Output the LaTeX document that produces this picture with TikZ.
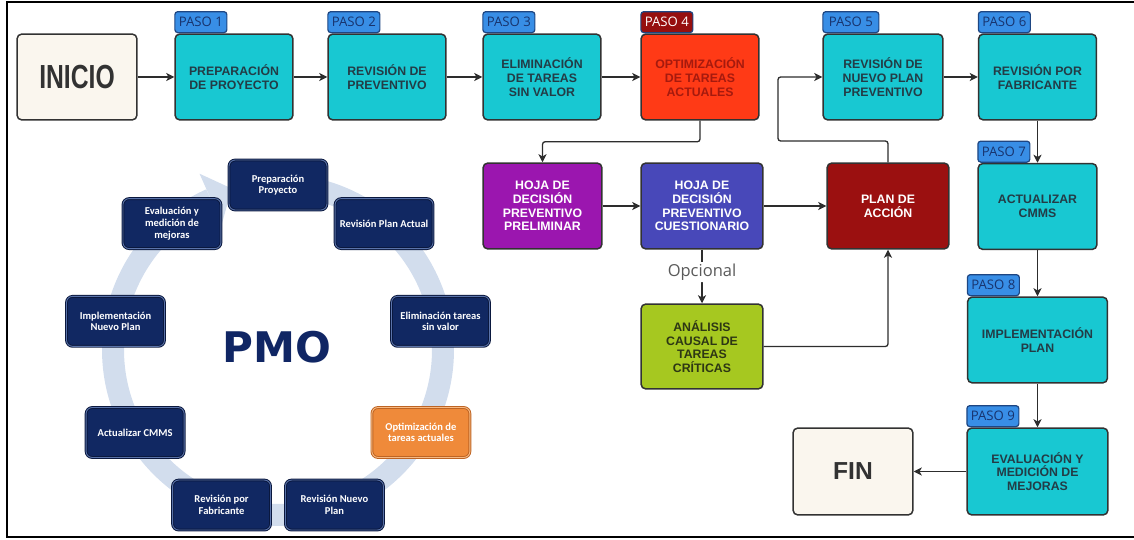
\documentclass[tikz,border=0pt]{standalone}
\usepackage{fontspec}
\setmainfont{Liberation Sans}
\newfontfamily\tagfont{Open Sans}
\newfontfamily\pmfont{Carlito}
\newfontfamily\bigfont{DejaVu Sans}
\newfontfamily\inicfont[FakeStretch=0.74]{Liberation Sans}
\usetikzlibrary{arrows.meta, calc, positioning}

\definecolor{boxedge}{RGB}{50,50,50}
\definecolor{linegray}{RGB}{45,45,45}
\definecolor{pasocyan}{RGB}{24,200,210}
\definecolor{pasotext}{RGB}{35,60,70}
\definecolor{endbeige}{RGB}{250,246,238}
\definecolor{endtext}{RGB}{50,50,50}
\definecolor{redbox}{RGB}{255,58,22}
\definecolor{redtext}{RGB}{165,26,14}
\definecolor{hojapurple}{RGB}{155,22,175}
\definecolor{hojablue}{RGB}{72,72,185}
\definecolor{planred}{RGB}{155,16,16}
\definecolor{causalgreen}{RGB}{166,200,32}
\definecolor{causaltext}{RGB}{45,55,20}
\definecolor{tagblue}{RGB}{56,142,230}
\definecolor{tagedge}{RGB}{30,70,130}
\definecolor{tagtext}{RGB}{24,52,110}
\definecolor{tagdark}{RGB}{150,15,15}
\definecolor{optgray}{RGB}{90,90,90}
\definecolor{ringblue}{RGB}{210,221,237}
\definecolor{pmonavy}{RGB}{17,40,98}
\definecolor{pmodark}{RGB}{10,24,62}
\definecolor{pmolight}{RGB}{90,115,170}
\definecolor{pmoorange}{RGB}{239,138,58}
\definecolor{pmoorangedark}{RGB}{190,100,35}
\definecolor{pmoorangelight}{RGB}{248,185,130}
\definecolor{pmoblue}{RGB}{16,38,100}

\tikzset{
	box/.style={draw=boxedge, line width=0.85pt, rounded corners=2.8pt, align=center, inner sep=0pt,
		minimum width=2.36cm, minimum height=1.72cm, font=\bfseries\fontsize{7}{7.8}\selectfont},
	paso/.style={box, fill=pasocyan, text=pasotext},
	endbox/.style={box, fill=endbeige, text=endtext, minimum width=2.4cm},
	tag/.style={draw=tagedge, fill=tagblue, text=tagtext, line width=0.7pt, rounded corners=1.7pt,
		inner sep=0pt, minimum width=1.04cm, minimum height=0.42cm, anchor=south west,
		font=\tagfont\fontsize{7.5}{8}\selectfont},
	tagred/.style={tag, fill=tagdark, text=white},
	arr/.style={draw=linegray, line width=0.75pt, rounded corners=1.5pt,
		-{Stealth[length=4.6pt, width=4.6pt, inset=1.3pt]}},
	opt/.style={fill=white, inner sep=1pt, text=optgray, font=\tagfont\fontsize{9.4}{10}\selectfont},
	ring/.style={draw=ringblue, line width=0.44cm},
	pmbox/.style={fill=pmonavy, draw=pmodark, double=pmolight, double distance=0.5pt, line width=0.55pt,
		rounded corners=3.5pt, minimum width=1.96cm, minimum height=1cm, inner sep=0pt, align=center,
		text=white, font=\pmfont\bfseries\fontsize{6}{6.6}\selectfont},
	pmhot/.style={fill=pmoorange, draw=pmoorangedark, double=pmoorangelight},
	pmolabel/.style={text=pmoblue, font=\bigfont\bfseries\fontsize{24}{25}\selectfont}
}

\begin{document}
\begin{tikzpicture}[x=0.02cm, y=-0.02cm]
	\useasboundingbox (0,0) rectangle (1134,540);
	\draw[line width=0.6pt] (1134,2) -- (7,2) -- (7,537) -- (1134,537);

	\begin{scope}[shift={(278,350)}]
		\draw[ring] plot[domain=275:606, samples=120, smooth] (\x:165);
		\fill[ringblue] (246:138) -- (246:193) -- (254:168) -- cycle;
		\node[pmbox] (pm1) at (270:165) {Preparación\\Proyecto};
		\node[pmbox] (pm2) at (310:165) {Revisión Plan Actual};
		\node[pmbox] (pm3) at (350:165) {Eliminación tareas\\sin valor};
		\node[pmbox, pmhot] (pm4) at (30:165) {Optimización de\\tareas actuales};
		\node[pmbox] (pm5) at (70:165) {Revisión Nuevo\\Plan};
		\node[pmbox] (pm6) at (110:165) {Revisión por\\Fabricante};
		\node[pmbox] (pm7) at (150:165) {Actualizar CMMS};
		\node[pmbox] (pm8) at (190:165) {Implementación\\Nuevo Plan};
		\node[pmbox] (pm9) at (230:165) {Evaluación y\\medición de\\mejoras};
		\node[pmolabel] (pmo) at (-1,-3) {PMO};
	\end{scope}

	\node[endbox, font=\inicfont\bfseries\fontsize{19}{20}\selectfont] (inicio) at (77,77) {INICIO};
	\node[paso] (p1) at (234,77) {PREPARACIÓN\\DE PROYECTO};
	\node[paso] (p2) at (387,77) {REVISIÓN DE\\PREVENTIVO};
	\node[paso] (p3) at (542,77) {ELIMINACIÓN\\DE TAREAS\\SIN VALOR};
	\node[paso, fill=redbox, text=redtext] (p4) at (700,77) {OPTIMIZACIÓN\\DE TAREAS\\ACTUALES};
	\node[paso, minimum width=2.4cm] (p5) at (883,77) {REVISIÓN DE\\NUEVO PLAN\\PREVENTIVO};
	\node[paso] (p6) at (1037.5,77) {REVISIÓN POR\\FABRICANTE};
	\node[paso, minimum width=2.38cm] (p7) at (1037.5,206.5) {ACTUALIZAR\\CMMS};
	\node[paso, minimum width=2.8cm] (p8) at (1037.5,340) {IMPLEMENTACIÓN\\PLAN};
	\node[paso, minimum width=2.82cm, minimum height=1.74cm] (p9) at (1037.5,471.5) {EVALUACIÓN Y\\MEDICIÓN DE\\MEJORAS};
	\node[endbox, minimum height=1.74cm, font=\bfseries\fontsize{14}{15}\selectfont] (fin) at (853,471.5) {FIN};

	\node[box, fill=hojapurple, text=white, minimum width=2.38cm] (hp) at (542.5,206) {HOJA DE\\DECISIÓN\\PREVENTIVO\\PRELIMINAR};
	\node[box, fill=hojablue, text=white, minimum width=2.44cm] (hc) at (702,206) {HOJA DE\\DECISIÓN\\PREVENTIVO\\CUESTIONARIO};
	\node[box, fill=planred, text=white, minimum width=2.44cm] (plan) at (888,206) {PLAN DE\\ACCIÓN};
	\node[box, fill=causalgreen, text=causaltext, minimum width=2.44cm, minimum height=1.7cm] (an) at (702,346.5) {ANÁLISIS\\CAUSAL DE\\TAREAS\\CRÍTICAS};

	\node[tag] (t1) at (p1.north west) {PASO 1};
	\node[tag] (t2) at (p2.north west) {PASO 2};
	\node[tag] (t3) at (p3.north west) {PASO 3};
	\node[tagred] (t4) at (p4.north west) {PASO 4};
	\node[tag, minimum width=1.12cm] (t5) at (p5.north west) {PASO 5};
	\node[tag] (t6) at (p6.north west) {PASO 6};
	\node[tag] (t7) at (p7.north west) {PASO 7};
	\node[tag] (t8) at (p8.north west) {PASO 8};
	\node[tag] (t9) at (p9.north west) {PASO 9};

	\coordinate (back) at (778,141);
	\draw[arr] (inicio.east) -- (p1.west);
	\draw[arr] (p1.east) -- (p2.west);
	\draw[arr] (p2.east) -- (p3.west);
	\draw[arr] (p3.east) -- (p4.west);
	\draw[arr] (p4.south) -- ++(0,21) -| (hp.north);
	\draw[arr] (hp.east) -- (hc.west);
	\draw[arr] (hc.east) -- (plan.west);
	\draw[arr] (hc.south) -- node[opt, pos=0.42] (opc) {Opcional} (an.north);
	\draw[arr] (an.east) -| (plan.south);
	\draw[arr] (plan.north) |- (back) |- (p5.west);
	\draw[arr] (p5.east) -- (p6.west);
	\draw[arr] (p6.south) -- (p7.north);
	\draw[arr] (p7.south) -- (p8.north);
	\draw[arr] (p8.south) -- (p9.north);
	\draw[arr] (p9.west) -- (fin.east);
\end{tikzpicture}
\end{document}
